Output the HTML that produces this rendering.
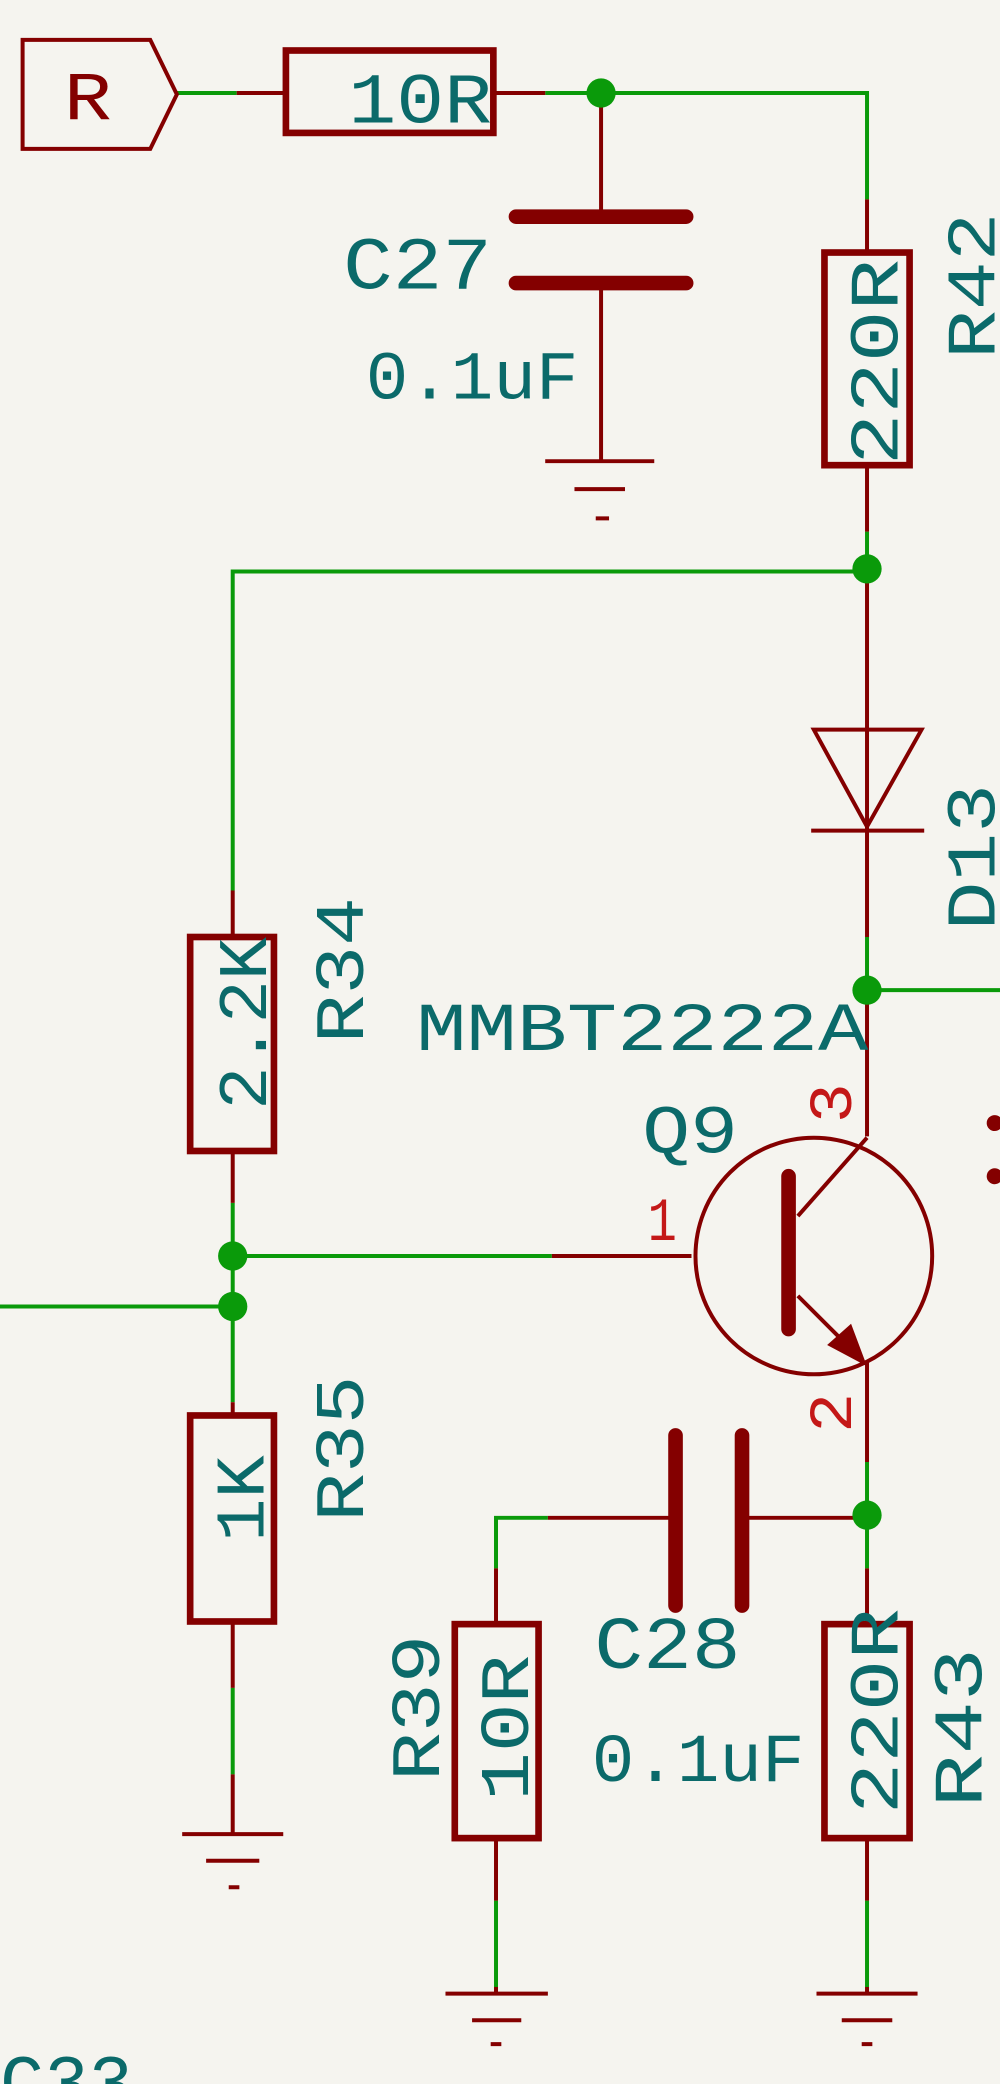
<!DOCTYPE html>
<html><head><meta charset="utf-8"><style>
html,body{margin:0;padding:0;background:#f5f4ef;}
svg{display:block}
text{font-family:"Liberation Mono","DejaVu Sans Mono",monospace;fill:#0b6a6a;}
</style></head><body>
<svg width="1000" height="2084" viewBox="0 0 752 1568" preserveAspectRatio="none" xmlns="http://www.w3.org/2000/svg">
<rect width="752" height="1568" fill="#f5f4ef"/>
<g fill="none" stroke-linecap="butt">
<g stroke="#0a9a0a" stroke-width="3">
<path d="M133 70H178"/>
<path d="M410 70H652V150"/>
<path d="M652 400V430H175V670"/>
<path d="M175 905V1055"/>
<path d="M175 945H415"/>
<path d="M0 983H175"/>
<path d="M175 1270V1335"/>
<path d="M652 705V745H752"/>
<path d="M652 1100V1180"/>
<path d="M373 1180V1142H412"/>
<path d="M373 1430V1495"/>
<path d="M652 1430V1495"/>
</g>
<g stroke="#840000" stroke-width="3">
<path d="M178 70H213"/><path d="M373 70H410"/>
<path d="M452 70V160"/><path d="M452 215V347"/>
<path d="M652 150V188"/><path d="M652 352V400"/>
<path d="M652 430V705"/><path d="M652 745V855"/>
<path d="M175 670V705"/><path d="M175 868V905"/>
<path d="M175 1055V1063"/><path d="M175 1222V1270"/><path d="M175 1335V1380"/>
<path d="M415 945H520"/>
<path d="M412 1142H505"/><path d="M560 1142H652"/>
<path d="M652 1025V1100"/><path d="M652 1180V1220"/>
<path d="M373 1180V1220"/><path d="M373 1385V1430"/><path d="M373 1495V1500"/>
<path d="M652 1385V1430"/><path d="M652 1495V1500"/>
<path d="M17 30H113L133 71L113 112H17Z"/>
<path d="M410 347H492M432 368H470M448 390H458"/>
<path d="M137 1380H213M155 1400H195M172 1420H180"/>
<path d="M335 1500H412M355 1520H392M369 1538H377"/>
<path d="M614 1500H690M633 1520H671M648 1538H656"/>
<path d="M612 549H693L652 622Z"/>
<path d="M610 625H695"/>
<circle cx="612" cy="945" r="89"/>
<path d="M600 915L652 856"/>
<path d="M600 975L645 1020"/>
</g>
<g fill="none" stroke="#840000" stroke-width="5">
<rect x="215" y="38" width="156" height="62"/>
<rect x="620" y="190" width="64" height="160"/>
<rect x="143" y="705" width="63" height="161"/>
<rect x="143" y="1065" width="63" height="155"/>
<rect x="342" y="1222" width="63" height="161"/>
<rect x="620" y="1222" width="64" height="161"/>
</g>
<g stroke="#840000" stroke-width="11" stroke-linecap="round">
<path d="M388 163H516M388 213H516"/>
<path d="M508 1080V1208M558 1080V1208"/>
<path d="M593 885V1000"/>
</g>
<path d="M652 1028L622 1012L640 996Z" fill="#840000"/>
<g fill="#0a9a0a">
<circle cx="452" cy="70" r="11"/><circle cx="652" cy="428" r="11"/>
<circle cx="652" cy="745" r="11"/><circle cx="175" cy="945" r="11"/>
<circle cx="175" cy="983" r="11"/><circle cx="652" cy="1140" r="11"/>
</g>
<g fill="#840000"><circle cx="748" cy="845" r="6"/><circle cx="748" cy="885" r="6"/></g>
<text x="48" y="90" font-size="52" style="fill:#840000" textLength="36" lengthAdjust="spacingAndGlyphs">R</text>
<text x="262" y="92" font-size="54" textLength="108" lengthAdjust="spacingAndGlyphs">10R</text>
<text x="258" y="217" font-size="56" textLength="112" lengthAdjust="spacingAndGlyphs">C27</text>
<text x="275" y="300" font-size="52" textLength="160" lengthAdjust="spacingAndGlyphs">0.1uF</text>
<text x="313" y="790" font-size="52" textLength="340" lengthAdjust="spacingAndGlyphs">MMBT2222A</text>
<text x="483" y="867" font-size="52" textLength="72" lengthAdjust="spacingAndGlyphs">Q9</text>
<text x="487" y="933" font-size="46" style="fill:#c41818" textLength="22" lengthAdjust="spacingAndGlyphs">1</text>
<text x="447" y="1255" font-size="56" textLength="110" lengthAdjust="spacingAndGlyphs">C28</text>
<text x="445" y="1340" font-size="52" textLength="160" lengthAdjust="spacingAndGlyphs">0.1uF</text>
<text x="0" y="1585" font-size="56" textLength="100" lengthAdjust="spacingAndGlyphs">C33</text>
<g font-size="52">
<text transform="translate(675,350) rotate(-90)" textLength="155" lengthAdjust="spacingAndGlyphs">220R</text>
<text transform="translate(748,270) rotate(-90)" textLength="110" lengthAdjust="spacingAndGlyphs">R42</text>
<text transform="translate(748,700) rotate(-90)" textLength="110" lengthAdjust="spacingAndGlyphs">D13</text>
<text transform="translate(200,835) rotate(-90)" textLength="130" lengthAdjust="spacingAndGlyphs">2.2K</text>
<text transform="translate(273,785) rotate(-90)" textLength="110" lengthAdjust="spacingAndGlyphs">R34</text>
<text transform="translate(198,1160) rotate(-90)" textLength="65" lengthAdjust="spacingAndGlyphs">1K</text>
<text transform="translate(273,1145) rotate(-90)" textLength="110" lengthAdjust="spacingAndGlyphs">R35</text>
<text transform="translate(397,1355) rotate(-90)" textLength="110" lengthAdjust="spacingAndGlyphs">10R</text>
<text transform="translate(330,1340) rotate(-90)" textLength="110" lengthAdjust="spacingAndGlyphs">R39</text>
<text transform="translate(675,1365) rotate(-90)" textLength="155" lengthAdjust="spacingAndGlyphs">220R</text>
<text transform="translate(738,1360) rotate(-90)" textLength="120" lengthAdjust="spacingAndGlyphs">R43</text>
<text transform="translate(640,845) rotate(-90)" font-size="46" style="fill:#c41818" textLength="30" lengthAdjust="spacingAndGlyphs">3</text>
<text transform="translate(640,1078) rotate(-90)" font-size="46" style="fill:#c41818" textLength="30" lengthAdjust="spacingAndGlyphs">2</text>
</g>
</svg>
</body></html>
